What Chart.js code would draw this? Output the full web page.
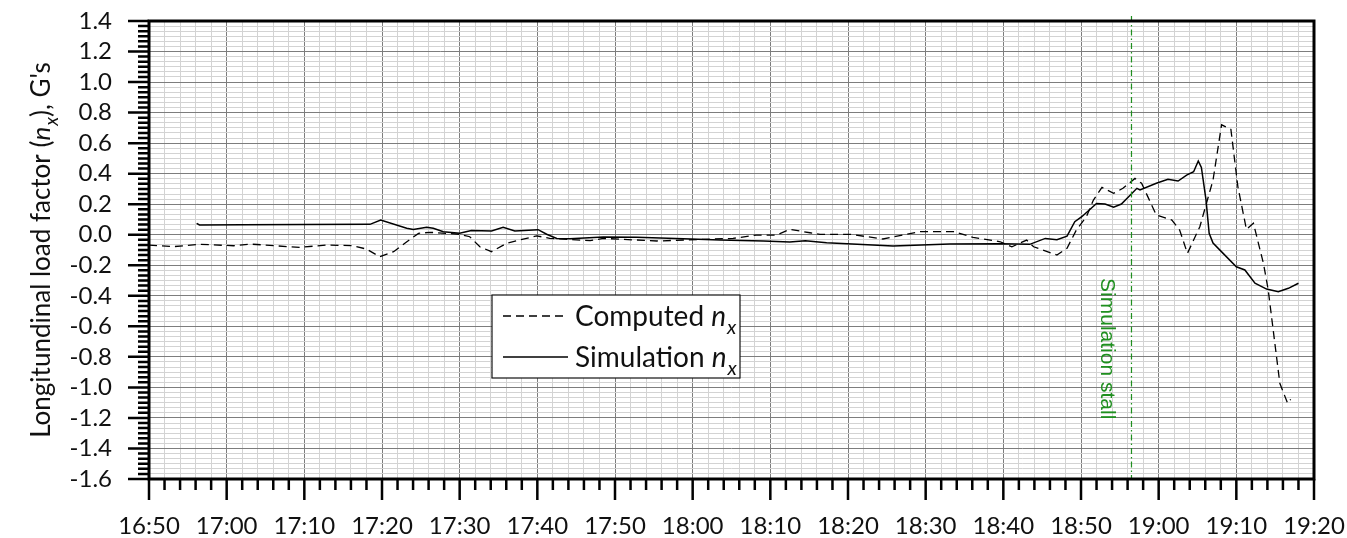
<!DOCTYPE html>
<html>
<head>
<meta charset="utf-8">
<script src="https://cdn.jsdelivr.net/npm/chart.js@4.4.1/dist/chart.umd.min.js"></script>
<style>
  html, body { margin: 0; padding: 0; background: #fff; }
</style>
</head>
<body>
<canvas id="load-chart" width="1347" height="538"></canvas>
<script>
// longitudinal load factor, G's, against local time
const computedTimes = ['16:50:00', '16:53:06', '16:56:36', '17:00:54', '17:03:00', '17:09:24', '17:12:54', '17:16:18',
  '17:18:00', '17:19:42', '17:21:30', '17:23:12', '17:24:42', '17:26:12', '17:30:00', '17:31:18', '17:32:36',
  '17:34:06', '17:36:03', '17:39:54', '17:41:36', '17:46:48', '17:48:30', '17:55:24', '18:01:24', '18:05:12',
  '18:08:12', '18:10:48', '18:12:30', '18:15:06', '18:16:24', '18:20:18', '18:24:30', '18:29:18', '18:33:36',
  '18:36:06', '18:39:36', '18:41:06', '18:43:00', '18:43:54', '18:46:54', '18:48:12', '18:49:24', '18:50:42',
  '18:51:36', '18:52:42', '18:54:12', '18:55:24', '18:56:57', '18:57:48', '18:59:42', '19:01:42', '19:02:42',
  '19:03:42', '19:05:18', '19:07:00', '19:08:06', '19:09:18', '19:10:12', '19:11:18', '19:12:12', '19:13:30',
  '19:14:06', '19:15:36', '19:16:36', '19:17:00'];
const computedValues = [-0.068, -0.078, -0.063, -0.072, -0.061, -0.083, -0.067, -0.072,
  -0.094, -0.144, -0.111, -0.046, 0.009, 0.016, 0.003, -0.013, -0.079,
  -0.111, -0.056, -0.007, -0.024, -0.039, -0.024, -0.041, -0.030, -0.024,
  -0.002, -0.002, 0.035, 0.013, 0.003, 0.003, -0.028, 0.020, 0.020,
  -0.017, -0.046, -0.079, -0.035, -0.079, -0.133, -0.089, 0.031, 0.118,
  0.227, 0.310, 0.271, 0.304, 0.369, 0.337, 0.129, 0.096, 0.031,
  -0.122, 0.052, 0.358, 0.720, 0.690, 0.314, 0.035, 0.075, -0.190,
  -0.360, -0.973, -1.104, -1.078];

const simTimes = ['16:56:08', '16:56:30', '17:02:00', '17:10:00', '17:18:27', '17:19:50', '17:23:11', '17:24:02',
  '17:25:45', '17:26:36', '17:27:54', '17:30:00', '17:31:30', '17:34:06', '17:35:36', '17:37:06', '17:40:06',
  '17:41:12', '17:42:30', '17:44:12', '17:48:30', '17:52:48', '17:58:48', '18:03:30', '18:09:06', '18:12:30',
  '18:14:30', '18:17:15', '18:25:48', '18:33:06', '18:39:36', '18:43:24', '18:45:24', '18:46:54', '18:48:12',
  '18:49:12', '18:50:06', '18:52:00', '18:53:06', '18:54:12', '18:55:12', '18:57:12', '18:57:36', '18:59:42',
  '19:01:12', '19:02:30', '19:03:36', '19:04:30', '19:05:06', '19:05:30', '19:06:06', '19:06:30', '19:07:00',
  '19:08:18', '19:10:00', '19:11:06', '19:12:24', '19:13:54', '19:15:24', '19:16:42', '19:18:00'];
const simValues = [0.075, 0.064, 0.065, 0.067, 0.068, 0.096, 0.042, 0.035,
  0.049, 0.042, 0.020, 0.010, 0.028, 0.024, 0.048, 0.024, 0.033,
  0.003, -0.024, -0.026, -0.015, -0.017, -0.026, -0.035, -0.041, -0.048,
  -0.040, -0.052, -0.074, -0.061, -0.059, -0.063, -0.024, -0.033, -0.009,
  0.085, 0.118, 0.205, 0.201, 0.180, 0.201, 0.304, 0.293, 0.337,
  0.363, 0.352, 0.391, 0.413, 0.483, 0.441, 0.227, 0.009, -0.055,
  -0.122, -0.210, -0.231, -0.318, -0.356, -0.373, -0.351, -0.318];

const xTickLabels = ['16:50', '17:00', '17:10', '17:20', '17:30', '17:40', '17:50', '18:00',
  '18:10', '18:20', '18:30', '18:40', '18:50', '19:00', '19:10', '19:20'];
const yTickLabels = ['-1.6', '-1.4', '-1.2', '-1.0', '-0.8', '-0.6', '-0.4', '-0.2',
  '0.0', '0.2', '0.4', '0.6', '0.8', '1.0', '1.2', '1.4'];
const stallTime = '18:56:30';
const stallText = 'Simulation stall';

const FONT = 'Lato';
const GREEN = '#1f8f1f';

const toMin = t => {
  const p = t.split(':').map(Number);
  return p[0] * 60 + p[1] + (p[2] || 0) / 60;
};
const pts = (times, vals) => times.map((t, i) => ({ x: toMin(t), y: vals[i] }));

const xMin = toMin(xTickLabels[0]);
const xMax = toMin(xTickLabels[xTickLabels.length - 1]);
const yMin = parseFloat(yTickLabels[0]);
const yMax = parseFloat(yTickLabels[yTickLabels.length - 1]);

// minor ticks: 2 min on x, 6 per 0.2 on y
const xTicks = [];
for (let m = xMin; m <= xMax + 1e-9; m += 2) xTicks.push(m);
const yTicks = [];
for (let k = 0; k <= Math.round((yMax - yMin) * 30); k++) yTicks.push(yMin + k / 30);

const xMajor = v => Math.round(v - xMin) % 10 === 0;
const yMajor = v => Math.round((v - yMin) * 30) % 6 === 0;
const fmtTime = v => {
  const m = Math.round(v);
  return Math.floor(m / 60) + ':' + String(m % 60).padStart(2, '0');
};
const noPad = s => { s.paddingTop = 0; s.paddingBottom = 0; s.paddingLeft = 0; s.paddingRight = 0; };

// draws a run of [text, style] pieces, style '' | 'i' | 'sub'
function fontFor(st, size) {
  if (st === 'sub') return `italic ${Math.round(size * 0.72)}px ${FONT}`;
  return `${st === 'i' ? 'italic ' : ''}${size}px ${FONT}`;
}
function richText(ctx, parts, x, y, size) {
  let cx = x;
  parts.forEach(([txt, st]) => {
    ctx.font = fontFor(st, size);
    ctx.fillText(txt, cx, st === 'sub' ? y + size * 0.3 : y);
    cx += ctx.measureText(txt).width + (st === 'i' ? 1 : 0);
  });
  return cx - x;
}
function richWidth(ctx, parts, size) {
  let w = 0;
  parts.forEach(([txt, st]) => {
    ctx.font = fontFor(st, size);
    w += ctx.measureText(txt).width + (st === 'i' ? 1 : 0);
  });
  return w;
}

const decorations = {
  id: 'decorations',
  afterDatasetsDraw(chart) {
    const { ctx, chartArea: a, scales: { x, y } } = chart;
    ctx.save();

    // stall marker
    const sx = x.getPixelForValue(toMin(stallTime));
    ctx.strokeStyle = GREEN;
    ctx.lineWidth = 1.2;
    ctx.setLineDash([6, 3, 1.5, 3]);
    ctx.beginPath();
    ctx.moveTo(sx, a.top - 5);
    ctx.lineTo(sx, a.bottom);
    ctx.stroke();
    ctx.setLineDash([]);
    ctx.save();
    ctx.translate(sx - 30, y.getPixelForValue(-0.284));
    ctx.rotate(Math.PI / 2);
    ctx.fillStyle = GREEN;
    ctx.font = '21px "Liberation Sans"';
    ctx.textAlign = 'left';
    ctx.textBaseline = 'alphabetic';
    ctx.fillText(stallText, 0, 0);
    ctx.restore();

    // frame and tick marks
    ctx.strokeStyle = '#000';
    ctx.lineWidth = 3;
    ctx.strokeRect(a.left, a.top, a.right - a.left, a.bottom - a.top);
    ctx.lineWidth = 2.5;
    ctx.beginPath();
    y.ticks.forEach(t => {
      const py = y.getPixelForValue(t.value);
      ctx.moveTo(a.left, py);
      ctx.lineTo(a.left - (yMajor(t.value) ? 21 : 11), py);
    });
    x.ticks.forEach(t => {
      const px = x.getPixelForValue(t.value);
      ctx.moveTo(px, a.bottom);
      ctx.lineTo(px, a.bottom + (xMajor(t.value) ? 21 : 11));
    });
    ctx.stroke();

    // legend
    const lx = a.left + 343, ly = a.top + 274, lw = 248, lh = 83;
    ctx.fillStyle = '#fff';
    ctx.fillRect(lx, ly, lw, lh);
    ctx.lineWidth = 1.2;
    ctx.strokeStyle = '#111';
    ctx.strokeRect(lx, ly, lw, lh);
    chart.data.datasets.forEach((ds, i) => {
      const rowY = ly + 21 + i * 41;
      ctx.strokeStyle = ds.borderColor;
      ctx.lineWidth = ds.borderWidth;
      ctx.setLineDash(ds.borderDash || []);
      ctx.beginPath();
      ctx.moveTo(lx + 11, rowY);
      ctx.lineTo(lx + 76, rowY);
      ctx.stroke();
      ctx.setLineDash([]);
      ctx.fillStyle = '#111';
      ctx.textBaseline = 'alphabetic';
      ctx.textAlign = 'left';
      richText(ctx, [[ds.label + ' ', ''], ['n', 'i'], ['x', 'sub']], lx + 83, rowY + 10, 28);
    });

    // y axis title
    const title = [['Longitundinal load factor (', ''], ['n', 'i'], ['x', 'sub'], ['), G\'s', '']];
    ctx.save();
    ctx.translate(50, (a.top + a.bottom) / 2);
    ctx.rotate(-Math.PI / 2);
    ctx.fillStyle = '#111';
    ctx.textAlign = 'left';
    ctx.textBaseline = 'alphabetic';
    const tw = richWidth(ctx, title, 26);
    richText(ctx, title, -tw / 2, 0, 26);
    ctx.restore();

    ctx.restore();
  }
};

new Chart(document.getElementById('load-chart').getContext('2d'), {
  type: 'line',
  data: {
    datasets: [{
      label: 'Computed',
      data: pts(computedTimes, computedValues),
      borderColor: '#000',
      borderWidth: 1.3,
      borderDash: [8, 5],
      pointRadius: 0,
      tension: 0
    }, {
      label: 'Simulation',
      data: pts(simTimes, simValues),
      borderColor: '#000',
      borderWidth: 1.5,
      pointRadius: 0,
      tension: 0
    }]
  },
  options: {
    responsive: false,
    animation: false,
    layout: { padding: { left: 0, top: 21, right: 33, bottom: 0 } },
    plugins: { legend: { display: false }, tooltip: { enabled: false } },
    scales: {
      x: {
        type: 'linear',
        min: xMin,
        max: xMax,
        afterBuildTicks: s => { s.ticks = xTicks.map(v => ({ value: v })); },
        afterFit: s => { s.height = 59; noPad(s); },
        border: { display: false },
        grid: {
          drawTicks: false,
          lineWidth: 1,
          color: c => xMajor(c.tick.value) ? '#7d7d7d' : '#d3d3d3'
        },
        ticks: {
          autoSkip: false,
          maxRotation: 0,
          padding: 33,
          color: '#111',
          font: { family: FONT, size: 24 },
          callback: v => xMajor(v) ? xTickLabels[xTickLabels.indexOf(fmtTime(v))] : ''
        }
      },
      y: {
        min: yMin,
        max: yMax,
        afterBuildTicks: s => { s.ticks = yTicks.map(v => ({ value: v })); },
        afterFit: s => { s.width = 149; noPad(s); },
        border: { display: false },
        grid: {
          drawTicks: false,
          lineWidth: 1,
          color: c => yMajor(c.tick.value) ? '#7d7d7d' : '#d3d3d3'
        },
        ticks: {
          autoSkip: false,
          padding: 37,
          color: '#111',
          font: { family: FONT, size: 24 },
          callback: v => yMajor(v) ? yTickLabels[Math.round((v - yMin) * 5)] : ''
        }
      }
    }
  },
  plugins: [decorations]
});
</script>
</body>
</html>
